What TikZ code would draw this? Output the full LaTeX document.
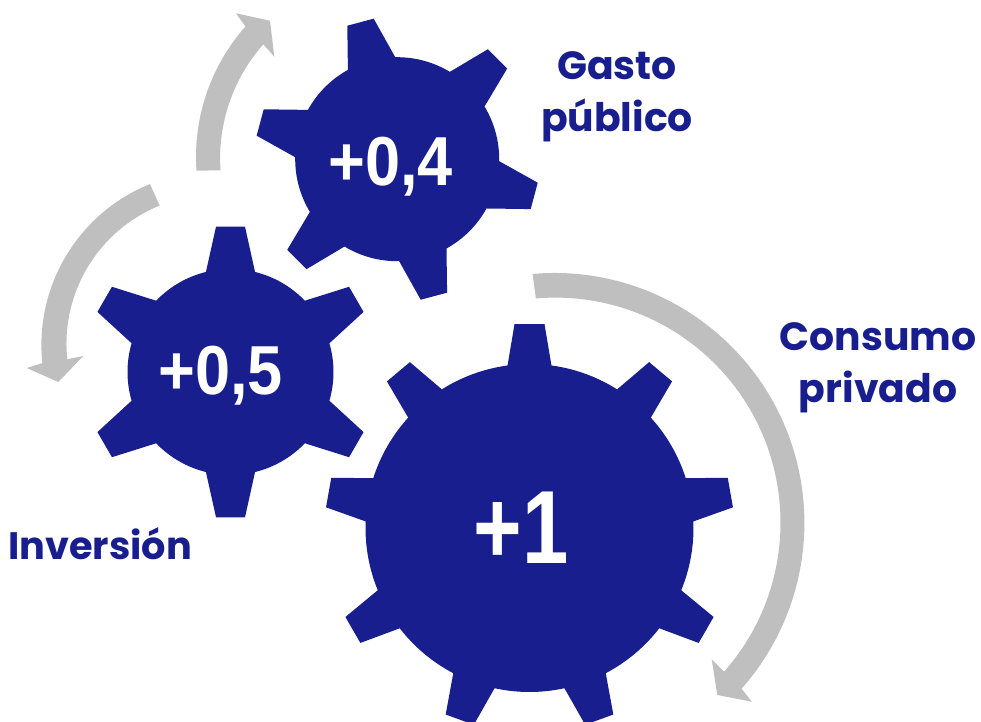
\documentclass[tikz,border=0pt]{standalone}
\usepackage{fontspec}
\setmainfont{Liberation Sans}
\newfontfamily\labelfont{Poppins}
\definecolor{gearblue}{RGB}{24,30,141}
\definecolor{arrowgray}{RGB}{191,191,191}
% #1 x, #2 y, #3 body radius, #4 tip radius, #5 teeth, #6 first tooth angle, #7 base half angle, #8 tip half angle
\newcommand{\gearshape}[8]{%
  \begin{scope}[shift={(#1,#2)}]
    \fill[gearfill] (#6-#7:#3)
      foreach[evaluate=\i as \a using #6+\i*360/#5] \i in {0,...,\numexpr#5-1\relax} {
        -- (\a-#7:#3) -- (\a-#8:#4) -- (\a+#8:#4) -- (\a+#7:#3)
        arc[start angle=\a+#7, end angle=\a+360/#5-#7, radius=#3]
      } -- cycle;
  \end{scope}}
\begin{document}
\begin{tikzpicture}[x=0.75pt,y=0.75pt,
  gearfill/.style={fill=gearblue},
  arrowfill/.style={fill=arrowgray},
  gearnum/.style={text=white,font=\bfseries\fontsize{52}{52}\selectfont,inner sep=0pt},
  gearnumbig/.style={text=white,font=\bfseries\fontsize{78}{78}\selectfont,inner sep=0pt},
  gearlabel/.style={text=gearblue,align=center,inner sep=0pt,font=\labelfont\bfseries\fontsize{29.5}{39}\selectfont},
  gearlabelsmall/.style={gearlabel,font=\labelfont\bfseries\fontsize{28.7}{39}\selectfont}]
\useasboundingbox (0,0) rectangle (981,721);
% arrows
\fill[arrowfill] (554.4,198) ++(95:250) arc[start angle=95,end angle=-41.5,radius=250]
  -- (751.7,19.3) -- (717.3,26) -- (711.7,61.7) -- (724,49.3)
  arc[start angle=-41.5,end angle=95,radius=225] -- cycle;
\fill[arrowfill] (393,564) ++(184:197) arc[start angle=184,end angle=138.5,radius=197]
  -- (236,707.7) -- (270,700.3) -- (274.3,664.3) -- (263.3,676.7)
  arc[start angle=138.5,end angle=184,radius=172] -- cycle;
\fill[arrowfill] (215,376) ++(112:173.6) arc[start angle=112,end angle=186,radius=173.6]
  -- (26.7,353) -- (58.3,339) -- (83.3,365) -- (67.3,361.7)
  arc[start angle=186,end angle=112,radius=149] -- cycle;
% gears
\gearshape{397.2}{561.8}{102}{142.5}{6}{105}{13.9}{5.5}
\gearshape{230.5}{349}{103}{146}{6}{90}{13.8}{5.7}
\gearshape{529.5}{193}{164}{204.5}{9}{90}{7.7}{4.2}
% numbers
\node[gearnum] (n04) at (390.7,554) {\scalebox{0.91}[1]{+0,4}};
\node[gearnum] (n05) at (220.5,345) {\scalebox{0.91}[1]{+0,5}};
\node[gearnumbig] (n1) at (521,193) {\scalebox{0.8}[1]{+1}};
% labels
\node[gearlabel] (gasto) at (617,624.5) {Gasto\\público};
\node[gearlabel] (consumo) at (878,353.5) {Consumo\\privado};
\node[gearlabelsmall] (inversion) at (100,177) {Inversión};
\end{tikzpicture}
\end{document}
